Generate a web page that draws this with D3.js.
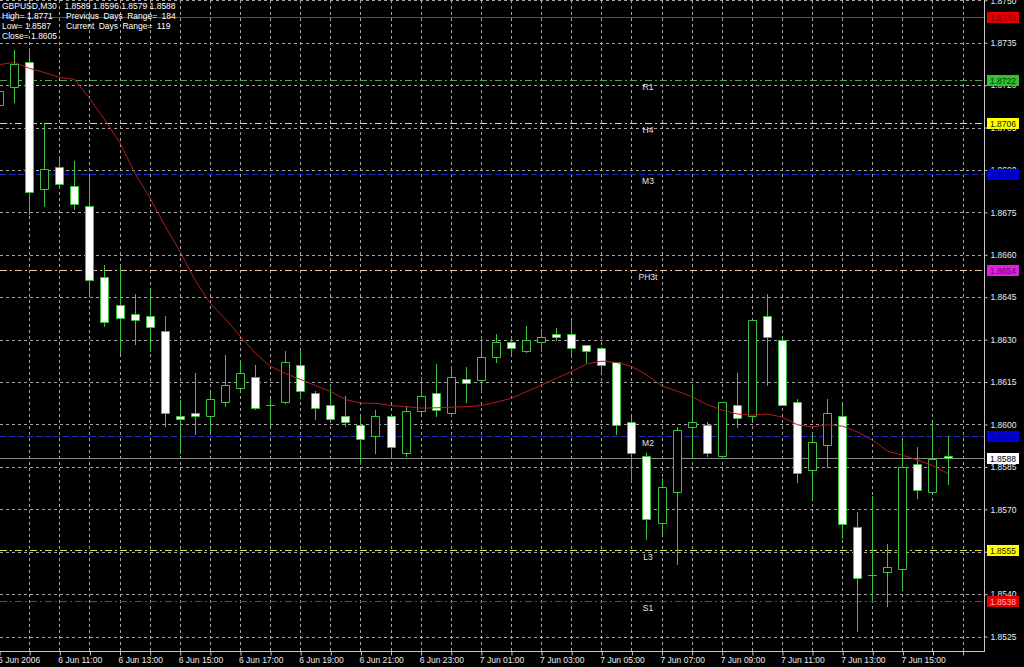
<!DOCTYPE html>
<html><head><meta charset="utf-8">
<script src="https://cdn.jsdelivr.net/npm/d3@7"></script>
<style>
html,body{margin:0;padding:0;background:#000;overflow:hidden}
svg{display:block}
text{font-family:"Liberation Sans",Arial,sans-serif;font-size:8.5px}
</style>
</head><body>
<svg id="c" width="1024" height="667"></svg>
<script>
// ---------- DATA ----------
const barTimes = [
"2006-06-06 09:00","2006-06-06 09:30","2006-06-06 10:00","2006-06-06 10:30","2006-06-06 11:00","2006-06-06 11:30",
"2006-06-06 12:00","2006-06-06 12:30","2006-06-06 13:00","2006-06-06 13:30","2006-06-06 14:00","2006-06-06 14:30",
"2006-06-06 15:00","2006-06-06 15:30","2006-06-06 16:00","2006-06-06 16:30","2006-06-06 17:00","2006-06-06 17:30",
"2006-06-06 18:00","2006-06-06 18:30","2006-06-06 19:00","2006-06-06 19:30","2006-06-06 20:00","2006-06-06 20:30",
"2006-06-06 21:00","2006-06-06 21:30","2006-06-06 22:00","2006-06-06 22:30","2006-06-06 23:00","2006-06-06 23:30",
"2006-06-07 00:00","2006-06-07 00:30","2006-06-07 01:00","2006-06-07 01:30","2006-06-07 02:00","2006-06-07 02:30",
"2006-06-07 03:00","2006-06-07 03:30","2006-06-07 04:00","2006-06-07 04:30","2006-06-07 05:00","2006-06-07 05:30",
"2006-06-07 06:00","2006-06-07 06:30","2006-06-07 07:00","2006-06-07 07:30","2006-06-07 08:00","2006-06-07 08:30",
"2006-06-07 09:00","2006-06-07 09:30","2006-06-07 10:00","2006-06-07 10:30","2006-06-07 11:00","2006-06-07 11:30",
"2006-06-07 12:00","2006-06-07 12:30","2006-06-07 13:00","2006-06-07 13:30","2006-06-07 14:00","2006-06-07 14:30",
"2006-06-07 15:00","2006-06-07 15:30","2006-06-07 16:00","2006-06-07 16:30"];

const openV = [1.8713,1.87192,1.87283,1.86831,1.86911,1.86842,1.86773,1.8652,1.86421,1.86389,1.86382,1.86332,
1.86031,1.86041,1.86029,1.86078,1.86128,1.86169,1.8607,1.86078,1.86211,1.8611,1.86069,1.86029,
1.85999,1.8596,1.86029,1.85898,1.86049,1.8611,1.86039,1.86161,1.86159,1.8624,1.86291,1.86259,
1.86291,1.8632,1.8632,1.86282,1.8627,1.8622,1.86007,1.8589,1.8565,1.8576,1.8599,1.85999,
1.8589,1.8607,1.86031,1.86382,1.86299,1.86078,1.85839,1.85928,1.86031,1.85639,1.85468,1.85479,
1.85488,1.85861,1.8576,1.8589];
const highV = [1.8724,1.87324,1.8733,1.87065,1.86949,1.86932,1.86887,1.86563,1.86559,1.8646,1.86474,1.86382,
1.86087,1.86181,1.8611,1.86244,1.86226,1.86212,1.8609,1.86261,1.86267,1.8612,1.86129,1.86102,
1.86025,1.86051,1.8603,1.86067,1.86167,1.86214,1.86208,1.86202,1.86311,1.8632,1.86309,1.8635,
1.86338,1.86342,1.8637,1.86282,1.86273,1.8622,1.86028,1.85898,1.85811,1.8599,1.86141,1.86007,
1.8608,1.86181,1.8637,1.86462,1.86306,1.8609,1.85966,1.8609,1.8607,1.85689,1.85748,1.85579,
1.85945,1.85921,1.8601,1.8596];
const lowV = [1.8709,1.8714,1.86746,1.86772,1.8684,1.86763,1.86462,1.86347,1.86254,1.86283,1.86261,1.85996,
1.85898,1.85968,1.85978,1.86067,1.8612,1.86055,1.85999,1.86075,1.86098,1.8602,1.86018,1.85996,
1.85861,1.85898,1.85883,1.8589,1.8604,1.86031,1.86031,1.86078,1.8612,1.8622,1.8625,1.86255,
1.86261,1.86299,1.8624,1.8622,1.86185,1.85968,1.85801,1.85594,1.85618,1.85508,1.85883,1.8589,
1.85885,1.8599,1.8602,1.86141,1.8607,1.85797,1.85736,1.85848,1.85598,1.8527,1.85378,1.85358,
1.85417,1.8574,1.8576,1.8579];
const closeV = [1.8718,1.87275,1.86822,1.86902,1.86852,1.86781,1.86512,1.86361,1.86375,1.86368,1.86343,1.86039,
1.8602,1.86029,1.8609,1.86141,1.86181,1.86058,1.8607,1.8622,1.8612,1.86058,1.8602,1.86007,
1.85949,1.86029,1.85921,1.86049,1.861,1.86051,1.86169,1.86147,1.8624,1.86291,1.8627,1.86299,
1.86311,1.86309,1.8627,1.86259,1.86212,1.85999,1.85898,1.85667,1.85779,1.8598,1.8601,1.85899,
1.86078,1.86022,1.8637,1.86311,1.8607,1.85828,1.85939,1.86039,1.85648,1.85458,1.85468,1.85497,
1.85848,1.85769,1.85878,1.8588];
const maV = [1.87273,1.8728,1.87259,1.87244,1.87227,1.8722,1.87151,1.87076,1.86996,1.86887,1.868,1.86701,
1.8661,1.86509,1.86428,1.86373,1.86311,1.86251,1.86205,1.8618,1.86159,1.86137,1.86116,1.86088,
1.86075,1.86075,1.86067,1.86063,1.86058,1.86059,1.86061,1.86063,1.86067,1.86079,1.86093,1.86116,
1.86139,1.86164,1.86187,1.86214,1.86224,1.86219,1.86205,1.86175,1.86136,1.86118,1.86098,1.8607,
1.86051,1.86037,1.86033,1.86037,1.86026,1.85999,1.85991,1.85999,1.85994,1.85973,1.85944,1.85905,
1.85891,1.85874,1.85854,1.85826];

const yTickValues = [1.8525,1.8540,1.8555,1.8570,1.8585,1.8600,1.8615,1.8630,1.8645,1.8660,1.8675,1.8690,1.8705,1.8720,1.8735,1.8750];
const xLabelTimes = ["2006-06-06 09:00","2006-06-06 11:00","2006-06-06 13:00","2006-06-06 15:00","2006-06-06 17:00","2006-06-06 19:00",
"2006-06-06 21:00","2006-06-06 23:00","2006-06-07 01:00","2006-06-07 03:00","2006-06-07 05:00","2006-06-07 07:00",
"2006-06-07 09:00","2006-06-07 11:00","2006-06-07 13:00","2006-06-07 15:00"];
const xLabels = ["6 Jun 2006","6 Jun 11:00","6 Jun 13:00","6 Jun 15:00","6 Jun 17:00","6 Jun 19:00","6 Jun 21:00","6 Jun 23:00",
"7 Jun 01:00","7 Jun 03:00","7 Jun 05:00","7 Jun 07:00","7 Jun 09:00","7 Jun 11:00","7 Jun 13:00","7 Jun 15:00"];

const levelValues = [1.87442,1.87218,1.87065,1.86887,1.86547,1.85959,1.8588,1.85555,1.85375];
const levelTexts  = ["1.8743","1.8722","1.8706","1.8689","1.8654","1.8596","1.8588","1.8555","1.8538"];
const levelNames  = ["","R1","H4","M3","PH3t","M2","","L3","S1"];

const headerLeft  = ["GBPUSD,M30","High= 1.8771","Low= 1.8587","Close= 1.8605"];
const headerRight = ["1.8589 1.8596 1.8579 1.8588","Previous Days Range= 184","Current Days Range= 119",""];

// ---------- STYLES ----------
const levelStyle = [
  {stroke:"#d01818", dash:null,        box:"#e00000", txt:"#7a0000"},
  {stroke:"#55a055", dash:"7,3,2,3",   box:"#33c033", txt:"#0a3a0a"},
  {stroke:"#e6e64a", dash:"7,3,2,3",   box:"#ffff00", txt:"#202000"},
  {stroke:"#1a28c8", dash:"6,3",       box:"#0000e0", txt:"#000090"},
  {stroke:"#f0c8b0", dash:"7,3,2,3",   box:"#e020e0", txt:"#700070"},
  {stroke:"#1a28c8", dash:"6,3",       box:"#0000e0", txt:"#000090"},
  {stroke:"#8c8c8c", dash:null,        box:"#ffffff", txt:"#000000"},
  {stroke:"#e6e64a", dash:"7,3,2,3",   box:"#ffff00", txt:"#202000"},
  {stroke:"#c82020", dash:"7,3,2,3",   box:"#e00000", txt:"#ffb0b0"}
];
const GREEN = "#3cc43c", GRID = "#a6a6a6", AXIS = "#c8c8c8", LABEL = "#ececec";

// ---------- CHART ----------
const svg = d3.select("#c");
const plotR = 984, plotB = 651;
const parse = d3.timeParse("%Y-%m-%d %H:%M");

const x = d3.scaleTime()
  .domain([parse("2006-06-06 09:00"), parse("2006-06-07 17:00")])
  .range([-0.9, 962.6]);
const y = d3.scaleLinear().domain([1.85199, 1.87501]).range([plotB, 0]);
const px = v => Math.round(v) + 0.5;

svg.append("rect").attr("width",1024).attr("height",667).attr("fill","#000");

// grid
const hourTicks = d3.timeHour.range(parse("2006-06-06 10:00"), parse("2006-06-07 18:00"));
const grid = svg.append("g").attr("stroke", GRID).attr("stroke-dasharray","3,3").attr("stroke-width",1);
grid.selectAll(".h").data(yTickValues).join("line")
  .attr("x1",0).attr("x2",plotR).attr("y1",d=>px(y(d))).attr("y2",d=>px(y(d)));
grid.selectAll(".v").data(hourTicks).join("line")
  .attr("x1",d=>px(x(d))).attr("x2",d=>px(x(d))).attr("y1",0).attr("y2",plotB);

// level lines
const lv = svg.append("g");
levelValues.forEach((v,i)=>{
  const st = levelStyle[i];
  lv.append("line").attr("x1",0).attr("x2",plotR).attr("y1",px(y(v))).attr("y2",px(y(v)))
    .attr("stroke",st.stroke).attr("stroke-width",1).attr("stroke-dasharray",st.dash);
  if (levelNames[i]) {
    lv.append("text").attr("x",648).attr("y",Math.round(y(v))+9.5).attr("text-anchor","middle")
      .attr("font-size","9px").attr("fill","#e6e6e6").text(levelNames[i]);
  }
});

// candles
const bars = barTimes.map((s,i)=>({t:parse(s),o:openV[i],h:highV[i],l:lowV[i],c:closeV[i],ma:maV[i]}));
const cg = svg.append("g");
cg.selectAll(".wick").data(bars).join("line")
  .attr("x1",d=>px(x(d.t))).attr("x2",d=>px(x(d.t)))
  .attr("y1",d=>Math.round(y(d.h))).attr("y2",d=>Math.round(y(d.l))+1)
  .attr("stroke",GREEN).attr("stroke-width",1);
cg.selectAll(".body").data(bars).join("path")
  .attr("d",d=>{
    const cx = Math.round(x(d.t));
    const x0 = cx-3.5, x1 = cx+4.5;
    const y0 = px(y(Math.max(d.o,d.c))), y1 = px(y(Math.min(d.o,d.c)));
    return `M${x0},${y0}H${x1}V${y1}H${x0}Z`;
  })
  .attr("fill",d=>d.c<d.o ? "#ffffff" : "#000000")
  .attr("stroke",GREEN).attr("stroke-width",1);

// moving average
svg.append("path").datum(bars)
  .attr("d",d3.line().x(d=>x(d.t)+0.5).y(d=>y(d.ma)))
  .attr("fill","none").attr("stroke","#b41c1c").attr("stroke-width",1);

// right axis
const ya = svg.append("g").attr("transform",`translate(${plotR+0.5},0)`)
  .call(d3.axisRight(y).tickValues(yTickValues).tickSize(3).tickSizeOuter(0).tickPadding(3).tickFormat(d3.format(".4f")));
ya.select(".domain").remove();
ya.selectAll(".tick line").attr("stroke",AXIS);
ya.selectAll("text").attr("fill",LABEL).attr("font-family",null).attr("font-size",null);
svg.append("line").attr("x1",plotR+0.5).attr("x2",plotR+0.5).attr("y1",0).attr("y2",plotB+1).attr("stroke",AXIS);

// bottom axis
const labelMap = new Map(xLabelTimes.map((s,i)=>[+parse(s), xLabels[i]]));
const xTickVals = [parse("2006-06-06 09:00")].concat(hourTicks);
const xa = svg.append("g").attr("transform",`translate(0,${plotB+0.5})`)
  .call(d3.axisBottom(x).tickValues(xTickVals).tickSize(4).tickSizeOuter(0).tickPadding(1)
    .tickFormat(d=>labelMap.get(+d) || ""));
xa.select(".domain").remove();
xa.selectAll(".tick line").attr("stroke",AXIS).attr("transform","translate(0.5,0)");
xa.selectAll("text").attr("fill",LABEL).attr("text-anchor","start").attr("x",-1.5)
  .attr("font-family",null).attr("font-size",null);
svg.append("line").attr("x1",0).attr("x2",plotR+1).attr("y1",plotB+0.5).attr("y2",plotB+0.5).attr("stroke",AXIS);

// level price boxes
levelValues.forEach((v,i)=>{
  const st = levelStyle[i];
  const cy = Math.round(y(v));
  svg.append("rect").attr("x",987).attr("y",cy-5).attr("width",32).attr("height",11).attr("fill",st.box);
  svg.append("text").attr("x",990).attr("y",cy+3.5).attr("fill",st.txt).text(levelTexts[i]);
});

// header
const hd = svg.append("g").attr("fill","#ffffff").attr("font-size","9px");
const rowsY = [9,18.5,28.5,38.5];
headerLeft.forEach((s,i)=>hd.append("text").attr("x",2).attr("y",rowsY[i]).text(s));
headerRight.forEach((s,i)=>hd.append("text").attr("x",i===0?64.5:66).attr("y",rowsY[i])
  .attr("word-spacing", i===0 ? "0px" : "2px").text(s));
</script>
</body></html>
